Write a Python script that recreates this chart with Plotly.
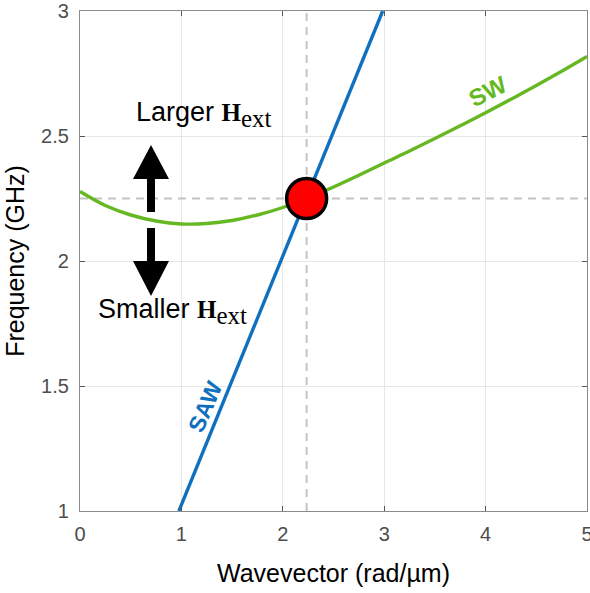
import plotly.graph_objects as go

# Dispersion branches (wavevector in rad/um, frequency in GHz)
sw_k = [0, 0.25, 0.5, 0.75, 1.0, 1.25, 1.5, 1.75, 2.0, 2.235, 2.5, 2.75,
        3.0, 3.25, 3.5, 3.75, 4.0, 4.25, 4.5, 4.75, 5.0]
sw_f = [2.278, 2.222, 2.184, 2.160, 2.148, 2.150, 2.162, 2.184, 2.214, 2.25,
        2.296, 2.343, 2.392, 2.440, 2.490, 2.541, 2.593, 2.647, 2.702, 2.759, 2.818]

saw_k = [0.975, 2.985]
saw_f = [1.0, 3.0]

# Crossing point of the two branches
cross_k = [2.235]
cross_f = [2.25]

x_ticks = [0, 1, 2, 3, 4, 5]
y_ticks = [1, 1.5, 2, 2.5, 3]

SANS = "Arial, Liberation Sans, sans-serif"
SERIF = "Liberation Serif, Times New Roman, serif"
BLUE = "#1070BE"
GREEN = "#66B822"
GRID = "#E6E6E6"
DASH = "#C4C4C4"

fig = go.Figure()

# guide lines through the crossing point
fig.add_trace(go.Scatter(x=[0, 5], y=[cross_f[0], cross_f[0]], mode="lines",
                         line=dict(color=DASH, width=2, dash="8px,6px"),
                         hoverinfo="skip", showlegend=False))
fig.add_trace(go.Scatter(x=[cross_k[0], cross_k[0]], y=[1, 3], mode="lines",
                         line=dict(color=DASH, width=2, dash="8px,6px"),
                         hoverinfo="skip", showlegend=False))

fig.add_trace(go.Scatter(x=sw_k, y=sw_f, mode="lines", name="SW",
                         line=dict(color=GREEN, width=3.4, shape="spline"),
                         showlegend=False))
fig.add_trace(go.Scatter(x=saw_k, y=saw_f, mode="lines", name="SAW",
                         line=dict(color=BLUE, width=3.4),
                         showlegend=False))
fig.add_trace(go.Scatter(x=cross_k, y=cross_f, mode="markers",
                         marker=dict(size=40, color="#FF0000",
                                     line=dict(color="black", width=3.5)),
                         showlegend=False))


# pixel -> data helpers for the arrow glyphs
def kx(px):
    return (px - 80) / 101.4


def fy(py):
    return 3 - (py - 11) / 250.0


def arrow_path(cx, tip, head_base, tail, half_head, half_shaft):
    pts = [(cx, tip), (cx + half_head, head_base), (cx + half_shaft, head_base),
           (cx + half_shaft, tail), (cx - half_shaft, tail),
           (cx - half_shaft, head_base), (cx - half_head, head_base)]
    return "M " + " L ".join(f"{kx(a):.4f},{fy(b):.4f}" for a, b in pts) + " Z"


for p in (arrow_path(151, 145, 179, 212, 18, 4),
          arrow_path(151, 296, 261, 228, 18, 4)):
    fig.add_shape(type="path", path=p, xref="x", yref="y",
                  fillcolor="black", line=dict(width=0))

H_EXT = (f'<span style="font-family:{SERIF}">'
         '<span style="font-size:25px"><b>H</b></span>'
         '<sub><span style="font-size:25px">ext</span></sub></span>')

fig.add_annotation(x=kx(204), y=fy(114), xref="x", yref="y",
                   text="Larger " + H_EXT, showarrow=False,
                   font=dict(family=SANS, size=27, color="black"))
fig.add_annotation(x=kx(172), y=fy(311), xref="x", yref="y",
                   text="Smaller " + H_EXT, showarrow=False,
                   font=dict(family=SANS, size=27, color="black"))
fig.add_annotation(x=kx(487), y=fy(91), xref="x", yref="y", text="<b>SW</b>",
                   showarrow=False, textangle=-27,
                   font=dict(family=SANS, size=24, color=GREEN))
fig.add_annotation(x=kx(205), y=fy(407), xref="x", yref="y", text="<b>SAW</b>",
                   showarrow=False, textangle=-67,
                   font=dict(family=SANS, size=23, color=BLUE))

axis_common = dict(showline=True, linecolor="#8A8A8A", linewidth=1.3,
                   mirror="ticks", ticks="inside", ticklen=5,
                   tickcolor="#555555", tickwidth=1, automargin=False,
                   showgrid=True, gridcolor=GRID, gridwidth=1, zeroline=False,
                   ticklabeloverflow="allow",
                   tickfont=dict(family=SANS, size=20, color="#4D4D4D"))

fig.update_xaxes(range=[0, 5], tickvals=x_ticks, ticktext=[str(t) for t in x_ticks],
                 ticklabelstandoff=5,
                 title=dict(text="Wavevector (rad/µm)", standoff=20,
                            font=dict(family=SANS, size=25, color="black")),
                 **axis_common)
fig.update_yaxes(range=[1, 3], tickvals=y_ticks,
                 ticktext=["1", "1.5", "2", "2.5", "3"],
                 ticklabelstandoff=6,
                 title=dict(text="Frequency (GHz)", standoff=9,
                            font=dict(family=SANS, size=25, color="black")),
                 **axis_common)

fig.update_layout(width=590, height=593,
                  margin=dict(l=80, r=3, t=11, b=82),
                  plot_bgcolor="white", paper_bgcolor="white",
                  showlegend=False)

fig.write_html("out.html")
